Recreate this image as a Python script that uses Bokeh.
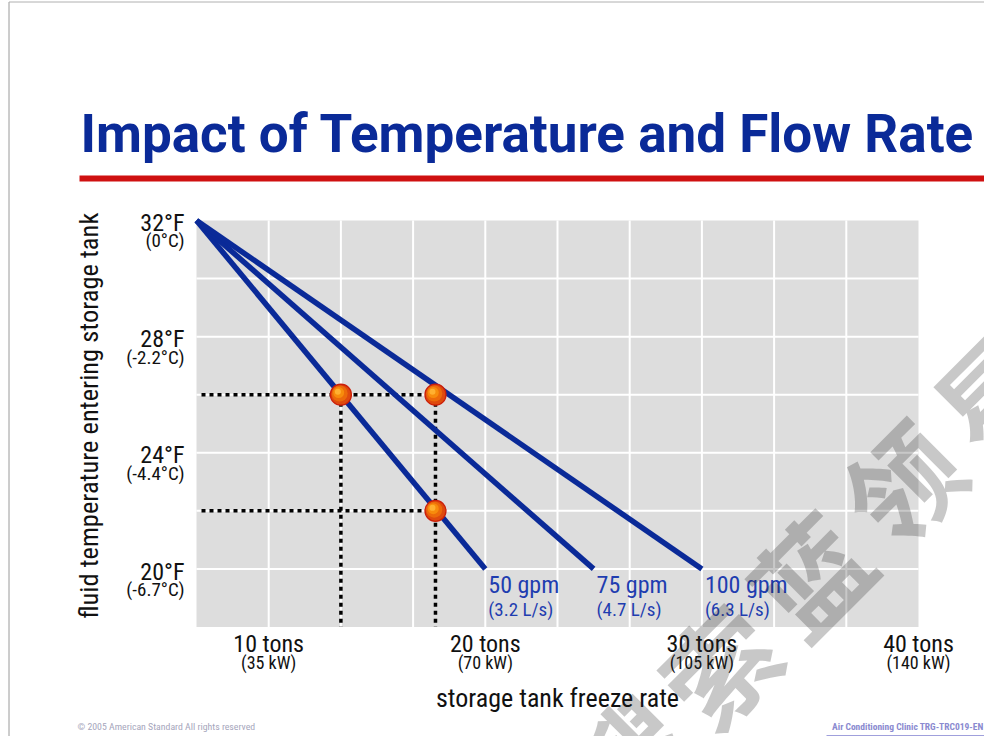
import math
from bokeh.plotting import figure
from bokeh.models import Range1d
from bokeh.core.properties import value
from bokeh.embed import file_html
from bokeh.resources import INLINE

# ---------------- data ----------------
title_text = "Impact of Temperature and Flow Rate"
x_axis_title = "storage tank freeze rate"
y_axis_title = "fluid temperature entering storage tank"

x_tick_values = [10, 20, 30, 40]
x_tick_labels = ["10 tons", "20 tons", "30 tons", "40 tons"]
x_tick_sublabels = ["(35 kW)", "(70 kW)", "(105 kW)", "(140 kW)"]

y_tick_values = [32, 28, 24, 20]
y_tick_labels = ["32°F", "28°F", "24°F", "20°F"]
y_tick_sublabels = ["(0°C)", "(-2.2°C)", "(-4.4°C)", "(-6.7°C)"]

x_grid = [10, 13.333, 16.667, 20, 23.333, 26.667, 30, 33.333, 36.667]
y_grid = [20, 22, 24, 26, 28, 30]
x_min, x_max = 6.667, 40
y_min, y_max = 18, 32

flow_labels = ["50 gpm", "75 gpm", "100 gpm"]
flow_metric = ["(3.2 L/s)", "(4.7 L/s)", "(6.3 L/s)"]
line_start_tons = [6.667, 6.667, 6.667]
line_start_temp = [32, 32, 32]
line_end_tons = [20, 25, 30]
line_end_temp = [20, 20, 20]

point_tons = [13.333, 17.7, 17.7]
point_temp = [26, 26, 22]

watermark = "搜索蓝领星"
footer_left = "© 2005 American Standard   All rights reserved"
footer_right = "Air Conditioning Clinic TRG-TRC019-EN"

# ---------------- layout helpers (picture pixels -> data) ----------------
W, H = 984, 736
FX0, FX1 = 196, 918       # px of x_min / x_max
FY0, FY1 = 220, 626.5     # px of y_max / y_min
SX = (FX1 - FX0) / (x_max - x_min)
SY = (FY1 - FY0) / (y_max - y_min)
K = 0.37                  # baseline correction (fraction of font size)


def X(px):
    return x_min + (px - FX0) / SX


def Y(py):
    return y_max - (py - FY0) / SY


def base(off, size):
    """screen offset of an anchor so that the text baseline lands at `off`"""
    return off - K * size


FONT = value("Roboto Condensed, Liberation Sans, sans-serif")
TFONT = value("Roboto, Liberation Sans, sans-serif")
BLUE = "#0a2a98"
LBLUE = "#1f3db0"
INK = "#111111"

p = figure(width=W, height=H,
           x_range=Range1d(X(0), X(W)),
           y_range=Range1d(Y(H), Y(0)),
           x_axis_type=None, y_axis_type=None,
           toolbar_location=None, output_backend="svg",
           min_border=0, outline_line_color=None,
           background_fill_color="white", border_fill_color="white")

# plot area background
p.quad(left=[x_min], right=[x_max], bottom=[y_min], top=[y_max],
       fill_color="#dddddd", line_color=None, level="image")

# grid lines
p.segment(x0=x_grid, y0=[y_min] * len(x_grid), x1=x_grid, y1=[y_max] * len(x_grid),
          line_color="white", line_width=2, level="underlay")
p.segment(x0=[x_min] * len(y_grid), y0=y_grid, x1=[x_max] * len(y_grid), y1=y_grid,
          line_color="white", line_width=2, level="underlay")

# dotted guide lines from the operating points
h_levels = sorted(set(point_temp), reverse=True)
h_x1 = [max(t for t, f in zip(point_tons, point_temp) if f == lv) for lv in h_levels]
p.segment(x0=[X(201)] * len(h_levels), y0=h_levels, x1=h_x1, y1=h_levels,
          line_color="black", line_width=3.5, line_dash="4 4")
v_levels = sorted(set(point_tons))
v_y0 = [max(f for t, f in zip(point_tons, point_temp) if t == lv) for lv in v_levels]
p.segment(x0=v_levels, y0=v_y0, x1=v_levels, y1=[y_min] * len(v_levels),
          line_color="black", line_width=3.5, line_dash="4 4")

# flow-rate lines
p.segment(x0=line_start_tons, y0=line_start_temp, x1=line_end_tons, y1=line_end_temp,
          line_color=BLUE, line_width=5.5, line_cap="butt")

# flow labels
p.text(x=line_end_tons, y=line_end_temp, text=flow_labels, x_offset=3, y_offset=base(25, 24),
       text_font=FONT, text_font_size="24px", text_color=LBLUE,
       text_align="left", text_baseline="alphabetic")
p.text(x=line_end_tons, y=line_end_temp, text=flow_metric, x_offset=3, y_offset=base(48, 19),
       text_font=FONT, text_font_size="19px", text_color=LBLUE,
       text_align="left", text_baseline="alphabetic")

# operating points (shaded spheres)
p.scatter(x=point_tons, y=point_temp, size=21, fill_color="#de4a0e",
          line_color="#cc1f0a", line_width=1.3)
for sz, col, d in [(16, "#ec6a0a", 1.2), (11, "#f78c0c", 2.2), (6, "#ffb030", 3.0)]:
    p.scatter(x=[t - d / SX for t in point_tons], y=[f + d / SY for f in point_temp],
              size=sz, fill_color=col, line_color=None)

# tick labels
p.text(x=x_tick_values, y=[y_min] * 4, text=x_tick_labels, y_offset=base(25.5, 24),
       text_font=FONT, text_font_size="24px", text_color=INK,
       text_align="center", text_baseline="alphabetic")
p.text(x=x_tick_values, y=[y_min] * 4, text=x_tick_sublabels, y_offset=base(42.5, 18),
       text_font=FONT, text_font_size="18px", text_color=INK,
       text_align="center", text_baseline="alphabetic")
p.text(x=[x_min] * 4, y=y_tick_values, text=y_tick_labels, x_offset=-12, y_offset=base(11.5, 24),
       text_font=FONT, text_font_size="24px", text_color=INK,
       text_align="right", text_baseline="alphabetic")
p.text(x=[x_min] * 4, y=y_tick_values, text=y_tick_sublabels, x_offset=-12, y_offset=base(27.5, 19),
       text_font=FONT, text_font_size="19px", text_color=INK,
       text_align="right", text_baseline="alphabetic")

# axis titles
p.text(x=[(x_min + x_max) / 2], y=[y_min], text=[x_axis_title], y_offset=base(80.5, 26),
       text_font=FONT, text_font_size="26px", text_color=INK,
       text_align="center", text_baseline="alphabetic")
p.text(x=[x_min], y=[(y_min + y_max) / 2], text=[y_axis_title], x_offset=base(-98, 26.5),
       y_offset=-8, angle=math.pi / 2, text_font=FONT, text_font_size="26.5px", text_color=INK,
       text_align="center", text_baseline="alphabetic")

# slide title and red rule
p.text(x=[X(80)], y=[Y(0)], text=[title_text], y_offset=base(153, 53), text_font=TFONT,
       text_font_style="bold", text_font_size="53px", text_color=BLUE,
       text_align="left", text_baseline="alphabetic")
p.segment(x0=[X(79)], y0=[Y(178)], x1=[X(1010)], y1=[Y(178)],
          line_color="#cf1010", line_width=6)

# slide border (left and top)
p.segment(x0=[X(8.5)], y0=[Y(1.5)], x1=[X(8.5)], y1=[Y(800)], line_color="#9a9a9a", line_width=1)
p.segment(x0=[X(8.5)], y0=[Y(1.5)], x1=[X(1010)], y1=[Y(1.5)], line_color="#b0b0b0", line_width=1)

# footers
p.text(x=[X(77)], y=[Y(0)], text=[footer_left], y_offset=base(730, 9.8), text_font=FONT,
       text_font_size="9.8px", text_color="#a6a6bc", text_align="left", text_baseline="alphabetic")
p.text(x=[X(983)], y=[Y(0)], text=[footer_right], y_offset=base(730, 9.5), text_font=FONT,
       text_font_style="bold", text_font_size="9.5px", text_color="#8a8ad0",
       text_align="right", text_baseline="alphabetic")
p.segment(x0=[X(826)], y0=[Y(735)], x1=[X(1000)], y1=[Y(735)],
          line_color="#a0a0dc", line_width=1)

# watermark
ang = math.radians(45)
step = 129
cx0, cy0 = 625, 754
wm_x = [X(cx0 + i * step * math.cos(ang)) for i in range(len(watermark))]
wm_y = [Y(cy0 - i * step * math.sin(ang)) for i in range(len(watermark))]
p.text(x=wm_x, y=wm_y, text=list(watermark), angle=ang,
       text_font=value("Noto Sans CJK SC"), text_font_style="bold", text_font_size="112px",
       text_color="#222222", text_alpha=0.25, text_align="center", text_baseline="middle")

open("out.html", "w").write(file_html(p, INLINE))
